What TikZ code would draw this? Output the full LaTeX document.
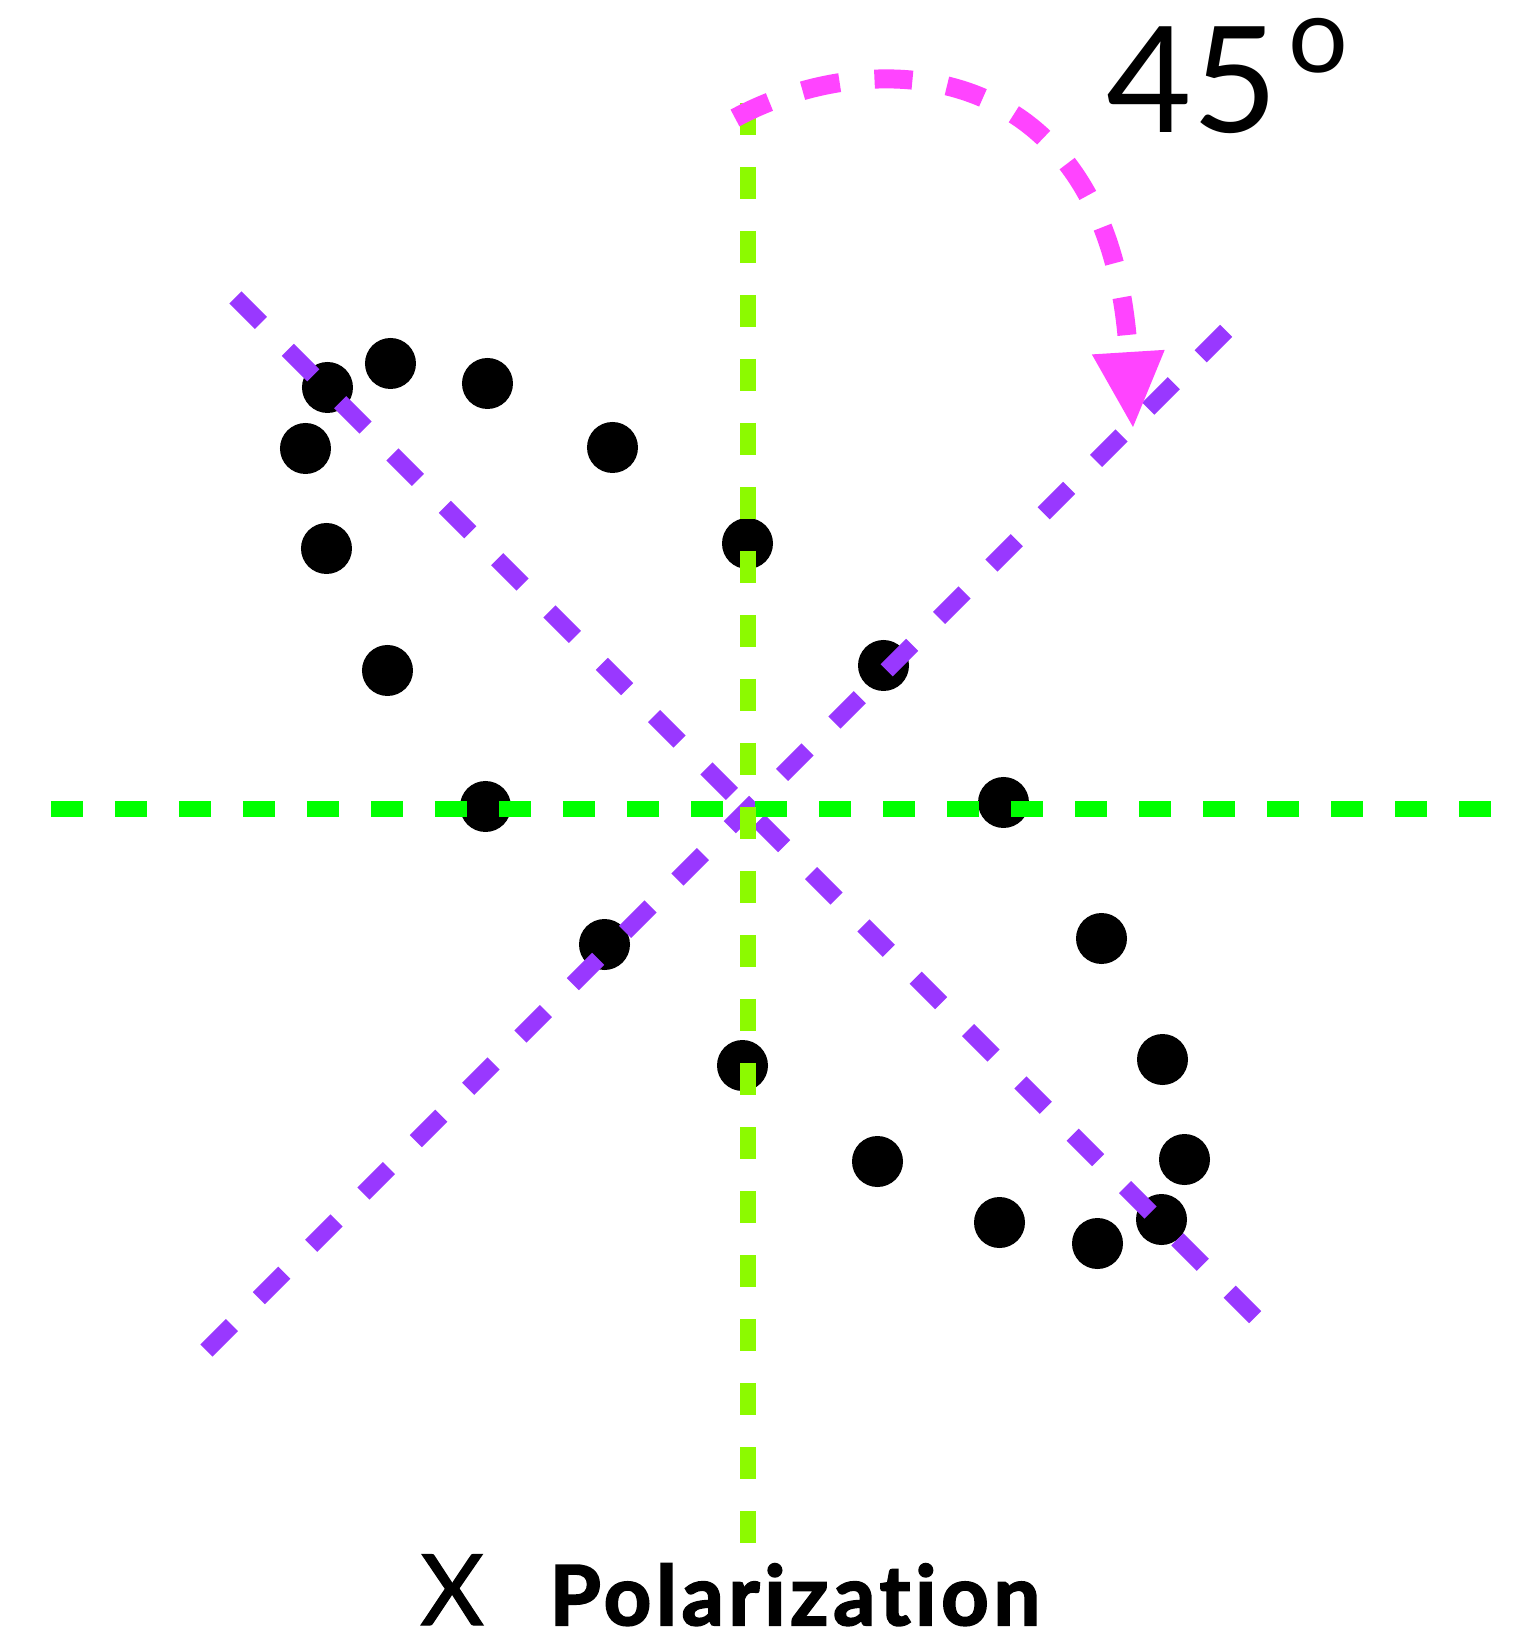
\documentclass[tikz,border=0pt]{standalone}
\usepackage{fontspec}
\setmainfont{Lato}
\usetikzlibrary{arrows.meta}
\definecolor{vgreen}{RGB}{140,250,0}
\definecolor{hgreen}{RGB}{0,255,0}
\definecolor{diagpurple}{RGB}{153,56,255}
\definecolor{turnpink}{RGB}{255,68,255}

\begin{document}
\begin{tikzpicture}[
  dotnode/.style={circle,fill=black,minimum size=5.1mm,inner sep=0pt},
  vaxis/.style={vgreen,line width=1.6mm,dash pattern=on 3.2mm off 3.2mm},
  haxis/.style={hgreen,line width=1.6mm,dash pattern=on 3.2mm off 3.2mm},
  diag/.style={diagpurple,line width=1.7mm,dash pattern=on 3.6mm off 3.8mm},
  turn/.style={turnpink,line width=1.9mm,dash pattern=on 3.8mm off 3.5mm},
  label/.style={inner sep=0pt,anchor=base west}]
 \useasboundingbox (-7.475,8.095) rectangle (7.835,-8.215);
 % the points
 \foreach \x/\y [count=\i] in {-4.2/4.22, -3.57/4.46, -2.6/4.26, -4.42/3.61,
     -1.35/3.62, -4.21/2.61, 0/2.66, -3.6/1.39, 1.36/1.44, -2.62/0.03,
     2.56/0.07, -1.43/-1.35, 3.54/-1.29, -0.05/-2.56, 4.15/-2.5,
     1.3/-3.52, 4.37/-3.5, 2.52/-4.13, 4.14/-4.1, 3.5/-4.34}
   \node[dotnode] (p\i) at (\x,\y) {};
 % axes
 \coordinate (NW) at (-5.12,5.12);
 \coordinate (SE) at (5.2,-5.2);
 \coordinate (SW) at (-5.41,-5.41);
 \coordinate (NE) at (4.92,4.92);
 \coordinate (W) at (-6.965,0);
 \coordinate (E) at (7.435,0);
 \coordinate (N) at (0,7.065);
 \coordinate (S) at (0,-7.335);
 \draw[diag] (NW) -- (SE);
 \draw[diag] (SW) -- (NE);
 \draw[haxis] (W) -- (E);
 \draw[vaxis] (N) -- (S);
 % rotation arrow
 \coordinate (A0) at (-0.125,6.915);
 \coordinate (A1) at (3.855,3.825);
 \draw[turn,-{Triangle[length=7.5mm,width=7.3mm,line width=0pt]}]
   (A0) .. controls (1.325,7.695) and (3.625,7.495) .. (A1);
 \node[label] (angle) at (3.585,6.765)
   {\fontsize{42}{42}\selectfont 45\kern3pt\raisebox{0.41em}{\fontsize{30}{30}\selectfont o}};
 \node[label] (xlab) at (-3.28,-8.155)
   {\fontsize{28}{28}\selectfont\addfontfeature{FakeBold=1.2}X};
 \node[label] (pollab) at (-1.985,-8.155)
   {\fontsize{23.5}{24}\selectfont\bfseries
    \addfontfeature{FakeBold=2.5,LetterSpace=6,Ligatures=NoCommon}Polarization};
\end{tikzpicture}
\end{document}
